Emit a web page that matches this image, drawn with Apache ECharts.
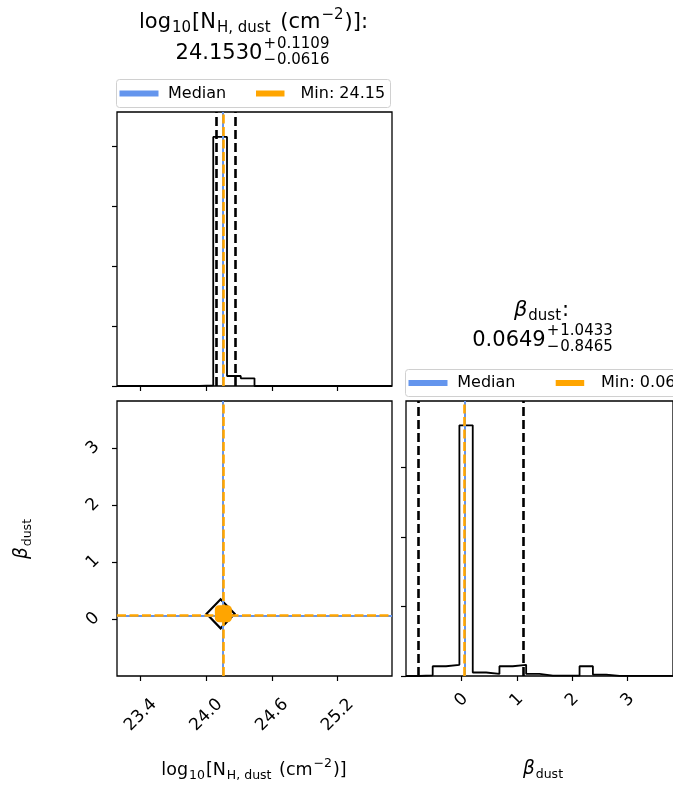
<!DOCTYPE html>
<html><head><meta charset="utf-8">
<script src="https://cdn.jsdelivr.net/npm/echarts@6/dist/echarts.min.js"></script>
<style>html,body{margin:0;padding:0;background:#fff;}#c{width:673px;height:790px;}</style>
</head><body><div id="c"></div>
<script>
// ---------------- data ----------------
const nhRange = [23.1834, 25.696];
const nhTicks = [23.4, 24.0, 24.6, 25.2];
const nhCounts = [0, 0, 0, 0, 0, 0, 0.01, 4.155, 0.167, 0.128, 0, 0, 0, 0, 0, 0, 0, 0, 0, 0];
const nhHistTicks = [0, 1, 2, 3, 4];
const nhHistMax = 4.57;

const betaRange = [-1.0, 3.82];
const betaTicks = [0, 1, 2, 3];
const betaCounts = [0, 0.01, 0.14, 0.16, 3.60, 0.05, 0.03, 0.14, 0.16, 0.03, 0.005, 0.005, 0.005, 0.14, 0.02, 0.003, 0.003, 0.003, 0.003, 0.003];
const betaHistTicks = [0, 1, 2, 3];
const betaHistMax = 3.95;

const medians = [24.1530, 0.0649];
const errPlus = [0.1109, 1.0433];
const errMinus = [0.0616, 0.8465];
const minVals = [24.15, 0.064];
const contourCentre = [24.13, 0.09];
const coreCentre = [24.155, 0.09];

const BLUE = '#6495ED', ORANGE = '#FFA500';
const FONT = '"DejaVu Sans"';

// ---------------- helpers ----------------
function stepData(range, counts) {
  const n = counts.length, w = (range[1] - range[0]) / n;
  const pts = [[range[0], 0]];
  counts.forEach((c, i) => { pts.push([range[0] + i * w, c]); pts.push([range[0] + (i + 1) * w, c]); });
  pts.push([range[1], 0]);
  return pts;
}
const cv = document.createElement('canvas').getContext('2d');
function tw(t, s, it) { cv.font = (it ? 'italic ' : '') + s + 'px ' + FONT; return cv.measureText(t).width; }
const MID = 0.32;
function mathParts(parts, ax, base, align) {
  let total = 0;
  parts.forEach(p => { p.w = tw(p.t, p.s, p.it); total += p.w + (p.g || 0); });
  let x = align === 'center' ? ax - total / 2 : (align === 'right' ? ax - total : ax);
  const out = [];
  parts.forEach(p => {
    x += (p.g || 0);
    out.push({ type: 'text', x: x, y: base + (p.dy || 0) - MID * p.s, silent: true,
      style: { text: p.t, font: (p.it ? 'italic ' : '') + p.s + 'px ' + FONT, fill: '#000', textAlign: 'left', textVerticalAlign: 'middle' } });
    x += p.w;
  });
  return out;
}
function fmt4(v) { return v.toFixed(4); }

function markSeries(xi, yi, axis, val, color, width, dash, z) {
  return { type: 'line', xAxisIndex: xi, yAxisIndex: yi, data: [], z: z, silent: true, animation: false,
    markLine: { symbol: ['none', 'none'], silent: true, animation: false, label: { show: false }, emphasis: { disabled: true },
      lineStyle: { color: color, width: width, type: dash || 'solid', cap: 'butt', opacity: 1 },
      data: [axis === 'x' ? { xAxis: val } : { yAxis: val }] } };
}

// ---------------- layout ----------------
const G = [
  { left: 117, top: 112, width: 275, height: 274 },
  { left: 117, top: 401, width: 275, height: 275 },
  { left: 406, top: 401, width: 275, height: 275 }
];
const grids = G.map(g => Object.assign({ show: true, borderColor: '#000', borderWidth: 1.3, backgroundColor: 'transparent', containLabel: false }, g));

const tickStyle = { show: true, length: 5, inside: false, lineStyle: { color: '#000', width: 1.2 } };
function mkAxis(gi, range, ticks, labels, rot, margin, fmt) {
  return {
    type: 'value', gridIndex: gi, min: range[0], max: range[1], scale: true,
    axisLine: { show: false, onZero: false }, splitLine: { show: false },
    axisTick: Object.assign({ customValues: ticks }, tickStyle),
    axisLabel: labels ? { show: true, customValues: ticks, rotate: rot, align: 'center', verticalAlign: 'middle', margin: margin,
      fontFamily: FONT, fontSize: 17, color: '#000', formatter: fmt, showMinLabel: true, showMaxLabel: true } : { show: false }
  };
}

const xAxes = [
  mkAxis(0, nhRange, nhTicks, false),
  mkAxis(1, nhRange, nhTicks, true, 45, 39, v => v.toFixed(1)),
  mkAxis(2, betaRange, betaTicks, true, 45, 24, v => String(Math.round(v)))
];
const yAxes = [
  mkAxis(0, [0, nhHistMax], nhHistTicks, false),
  mkAxis(1, betaRange, betaTicks, true, 45, 24, v => String(Math.round(v))),
  mkAxis(2, [0, betaHistMax], betaHistTicks, false)
];

const DASHK = [9, 4], DASHO = [9, 3.5];
const series = [
  // top-left histogram
  { type: 'line', xAxisIndex: 0, yAxisIndex: 0, data: stepData(nhRange, nhCounts), symbol: 'none', z: 4, animation: false,
    lineStyle: { color: '#000', width: 1.8 } },
  markSeries(0, 0, 'x', medians[0] - errMinus[0], '#000', 2.6, DASHK, 3),
  markSeries(0, 0, 'x', medians[0] + errPlus[0], '#000', 2.6, DASHK, 3),
  markSeries(0, 0, 'x', medians[0], BLUE, 2, 'solid', 5),
  markSeries(0, 0, 'x', minVals[0], ORANGE, 2.6, DASHO, 6),
  // 2D panel
  markSeries(1, 1, 'x', medians[0], BLUE, 2, 'solid', 5),
  markSeries(1, 1, 'y', medians[1], BLUE, 2, 'solid', 5),
  markSeries(1, 1, 'x', minVals[0], ORANGE, 2.6, DASHO, 6),
  markSeries(1, 1, 'y', minVals[1], ORANGE, 2.6, DASHO, 6),
  { type: 'scatter', xAxisIndex: 1, yAxisIndex: 1, data: [contourCentre], symbol: 'diamond', symbolSize: [28, 29], z: 4, animation: false, silent: true,
    itemStyle: { color: 'rgba(0,0,0,0)', borderColor: '#000', borderWidth: 2.2, opacity: 1 } },
  { type: 'scatter', xAxisIndex: 1, yAxisIndex: 1, data: [coreCentre], symbol: 'roundRect', symbolSize: 17, z: 7, animation: false, silent: true,
    itemStyle: { color: ORANGE, opacity: 1 } },
  // bottom-right histogram
  { type: 'line', xAxisIndex: 2, yAxisIndex: 2, data: stepData(betaRange, betaCounts), symbol: 'none', z: 4, animation: false,
    lineStyle: { color: '#000', width: 1.8 } },
  markSeries(2, 2, 'x', medians[1] - errMinus[1], '#000', 2.6, DASHK, 3),
  markSeries(2, 2, 'x', medians[1] + errPlus[1], '#000', 2.6, DASHK, 3),
  markSeries(2, 2, 'x', medians[1], BLUE, 2, 'solid', 5),
  markSeries(2, 2, 'x', minVals[1], ORANGE, 2.6, DASHO, 6)
];

// ---------------- texts ----------------
const S = 21, s = 15;
let gfx = [];
// title 1
gfx = gfx.concat(mathParts([
  { t: 'log', s: S }, { t: '10', s: s, dy: 4, g: 1 }, { t: '[N', s: S, g: 1 }, { t: 'H, dust', s: s, dy: 4, g: 1 },
  { t: ' (cm', s: S, g: 3 }, { t: '\u22122', s: s, dy: -9, g: 1 }, { t: ')]:', s: S, g: 1 }
], 253.5, 29, 'center'));
function valueLine(cx, base, med, p, m) {
  const mainT = fmt4(med), supT = '+' + fmt4(p), subT = '\u2212' + fmt4(m);
  const wm = tw(mainT, S), ws = Math.max(tw(supT, s), tw(subT, s)) + 2;
  const x0 = cx - (wm + ws) / 2;
  let out = mathParts([{ t: mainT, s: S }], x0, base, 'left');
  out = out.concat(mathParts([{ t: '+', s: s }, { t: fmt4(p), s: s, g: 1 }], x0 + wm + 1, base - 11, 'left'));
  out = out.concat(mathParts([{ t: '\u2212', s: s }, { t: fmt4(m), s: s, g: 1 }], x0 + wm + 1, base + 5, 'left'));
  return out;
}
gfx = gfx.concat(valueLine(252.5, 60, medians[0], errPlus[0], errMinus[0]));
// title 2
gfx = gfx.concat(mathParts([{ t: '\u03b2', s: S, it: true }, { t: 'dust', s: s, dy: 4, g: 1 }, { t: ':', s: S, g: 1 }], 541.5, 317, 'center'));
gfx = gfx.concat(valueLine(542.5, 347.3, medians[1], errPlus[1], errMinus[1]));

// legends
function legend(x, y, w, h, bx, ox, tx1, tx2, label2) {
  const cy = y + h / 2;
  return [
    { type: 'rect', silent: true, shape: { x: x, y: y, width: w, height: h, r: 3 }, style: { fill: '#fff', stroke: '#d0d0d0', lineWidth: 1 } },
    { type: 'line', silent: true, shape: { x1: bx, y1: cy, x2: bx + 39, y2: cy }, style: { stroke: BLUE, lineWidth: 6 } },
    { type: 'text', silent: true, x: tx1, y: cy, style: { text: 'Median', font: '16px ' + FONT, fill: '#000', textAlign: 'left', textVerticalAlign: 'middle' } },
    { type: 'line', silent: true, shape: { x1: ox, y1: cy, x2: ox + 28.5, y2: cy }, style: { stroke: ORANGE, lineWidth: 6 } },
    { type: 'text', silent: true, x: tx2, y: cy, style: { text: label2, font: '16px ' + FONT, fill: '#000', textAlign: 'left', textVerticalAlign: 'middle' } }
  ];
}
gfx = gfx.concat(legend(116.5, 79.5, 274, 28, 119.5, 256, 168, 300.5, 'Min: ' + minVals[0].toFixed(2)));
gfx = gfx.concat(legend(405.5, 369.5, 300, 27, 408.5, 555.7, 457.3, 601, 'Min: ' + minVals[1].toFixed(2)));

// axis labels
const L = 17.5, l = 12.5;
gfx = gfx.concat(mathParts([
  { t: 'log', s: L }, { t: '10', s: l, dy: 3.5, g: 1 }, { t: '[N', s: L, g: 1 }, { t: 'H, dust', s: l, dy: 3.5, g: 1 },
  { t: ' (cm', s: L, g: 2 }, { t: '\u22122', s: l, dy: -8, g: 1 }, { t: ')]', s: L, g: 1 }
], 254, 776, 'center'));
gfx = gfx.concat(mathParts([{ t: '\u03b2', s: L + 1, it: true }, { t: 'dust', s: l, dy: 3.5, g: 1 }], 543, 775, 'center'));
gfx.push({ type: 'group', x: 23, y: 539, rotation: Math.PI / 2, silent: true,
  children: mathParts([{ t: '\u03b2', s: L + 1, it: true }, { t: 'dust', s: l, dy: 3.5, g: 1 }], 0, 5, 'center') });

const chart = echarts.init(document.getElementById('c'), null, { renderer: 'canvas' });
chart.setOption({
  animation: false,
  backgroundColor: '#fff',
  grid: grids,
  xAxis: xAxes,
  yAxis: yAxes,
  series: series,
  graphic: { elements: gfx }
});
</script></body></html>
